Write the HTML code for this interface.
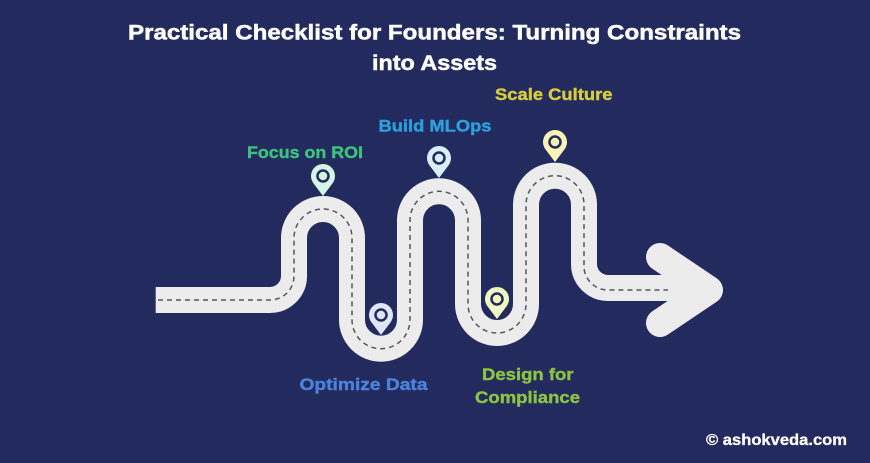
<!DOCTYPE html>
<html>
<head>
<meta charset="utf-8">
<style>
  html,body{margin:0;padding:0;background:#232a5e;}
  svg{display:block;}
  text{font-family:"Liberation Sans",Arial,sans-serif;font-weight:bold;}
</style>
</head>
<body>
<svg width="870" height="463" viewBox="0 0 870 463" xmlns="http://www.w3.org/2000/svg">
  <rect width="870" height="463" fill="#232a5e"/>

  <!-- Title -->
  <text x="128" y="39.5" font-size="21" fill="#ffffff" stroke="#ffffff" stroke-width="0.5" textLength="613" lengthAdjust="spacingAndGlyphs">Practical Checklist for Founders: Turning Constraints</text>
  <text x="372" y="70" font-size="21" fill="#ffffff" stroke="#ffffff" stroke-width="0.5" textLength="125" lengthAdjust="spacingAndGlyphs">into Assets</text>

  <!-- Road -->
  <path d="M155.7,300 H270 A24,24 0 0 0 294,276 V238 A29,29 0 0 1 352,238 V319.7 A29,29 0 0 0 410,319.7 V220.3 A29,29 0 0 1 468,220.3 V304 A29,29 0 0 0 526,304 V204.7 A29,29 0 0 1 584,204.7 V264 A24,24 0 0 0 608,288 H706"
        fill="none" stroke="#ececec" stroke-width="26" stroke-linejoin="round"/>
  <!-- Arrow head -->
  <polyline points="660,257 709,290 660,323" fill="none" stroke="#ececec" stroke-width="28" stroke-linecap="round" stroke-linejoin="round"/>

  <!-- Dashed center line -->
  <path d="M158,300 H270 A24,24 0 0 0 294,276 V238 A29,29 0 0 1 352,238 V319.7 A29,29 0 0 0 410,319.7 V220.3 A29,29 0 0 1 468,220.3 V304 A29,29 0 0 0 526,304 V204.7 A29,29 0 0 1 584,204.7 V264 A24,24 0 0 0 608,290 H668"
        fill="none" stroke="#55575e" stroke-width="1.5" stroke-dasharray="5 4"/>

  <!-- Pins -->
  <g transform="translate(323,196)">
    <path d="M0,0 L-9.6,-12.8 A12,12 0 1 1 9.6,-12.8 Z" fill="#d4f5e6"/>
    <circle cx="0" cy="-20" r="5.5" fill="#d4f5e6" stroke="#232a5e" stroke-width="2.5"/>
  </g>
  <g transform="translate(439,178)">
    <path d="M0,0 L-9.6,-12.8 A12,12 0 1 1 9.6,-12.8 Z" fill="#d9eefa"/>
    <circle cx="0" cy="-20" r="5.5" fill="#d9eefa" stroke="#232a5e" stroke-width="2.5"/>
  </g>
  <g transform="translate(555,162)">
    <path d="M0,0 L-9.6,-12.8 A12,12 0 1 1 9.6,-12.8 Z" fill="#fbf3b5"/>
    <circle cx="0" cy="-20" r="5.5" fill="#fbf3b5" stroke="#232a5e" stroke-width="2.5"/>
  </g>
  <g transform="translate(381,335)">
    <path d="M0,0 L-9.6,-12.8 A12,12 0 1 1 9.6,-12.8 Z" fill="#dce6f8"/>
    <circle cx="0" cy="-20" r="5.5" fill="#dce6f8" stroke="#232a5e" stroke-width="2.5"/>
  </g>
  <g transform="translate(497,319)">
    <path d="M0,0 L-9.6,-12.8 A12,12 0 1 1 9.6,-12.8 Z" fill="#eef8c0"/>
    <circle cx="0" cy="-20" r="5.5" fill="#eef8c0" stroke="#232a5e" stroke-width="2.5"/>
  </g>

  <!-- Labels -->
  <text x="247" y="158" font-size="17" fill="#3cc27f" stroke="#3cc27f" stroke-width="0.4" textLength="116" lengthAdjust="spacingAndGlyphs">Focus on ROI</text>
  <text x="378.5" y="131.5" font-size="17" fill="#2aa0dc" stroke="#2aa0dc" stroke-width="0.4" textLength="113" lengthAdjust="spacingAndGlyphs">Build MLOps</text>
  <text x="495" y="100" font-size="17" fill="#d6cd3c" stroke="#d6cd3c" stroke-width="0.4" textLength="117.5" lengthAdjust="spacingAndGlyphs">Scale Culture</text>
  <text x="299.5" y="390" font-size="17" fill="#4a82dc" stroke="#4a82dc" stroke-width="0.4" textLength="128" lengthAdjust="spacingAndGlyphs">Optimize Data</text>
  <text x="482" y="380" font-size="17" fill="#8cc341" stroke="#8cc341" stroke-width="0.4" textLength="91.5" lengthAdjust="spacingAndGlyphs">Design for</text>
  <text x="475" y="403" font-size="17" fill="#8cc341" stroke="#8cc341" stroke-width="0.4" textLength="105" lengthAdjust="spacingAndGlyphs">Compliance</text>

  <!-- Watermark -->
  <text x="706" y="445" font-size="16" fill="#ffffff" stroke="#ffffff" stroke-width="0.3" textLength="141" lengthAdjust="spacingAndGlyphs">© ashokveda.com</text>
</svg>
</body>
</html>
